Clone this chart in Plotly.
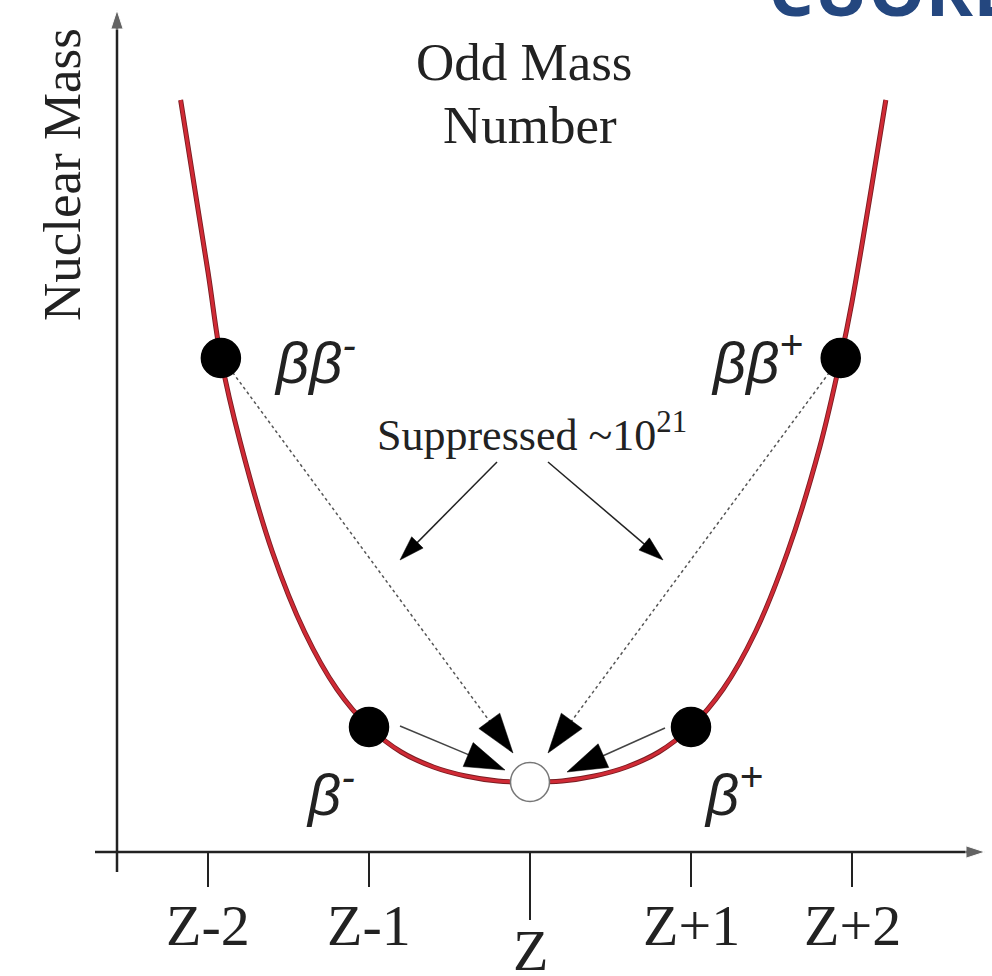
import plotly.graph_objects as go

# ---- data ----
# x in units of atomic number relative to Z; y in arbitrary mass units
curve_z = [-2.17, -2.0, -1.92, -1.8, -1.6, -1.4, -1.2, -1.0, -0.8, -0.6, -0.4, -0.2, 0.0,
           0.2, 0.4, 0.6, 0.8, 1.0, 1.2, 1.4, 1.6, 1.8, 1.93, 2.0, 2.21]
curve_mass = [752, 580, 494, 410, 300, 220, 163, 125, 100, 85, 76, 71, 70,
              71, 76, 85, 100, 125, 163, 220, 300, 405, 494, 550, 752]

nuclei_z = [-1.92, -1.0, 0.0, 1.0, 1.93]
nuclei_mass = [494, 125, 70, 125, 494]
nuclei_filled = [True, True, False, True, True]

tick_pos = [-2, -1, 0, 1, 2]
tick_labels = ["Z-2", "Z-1", "Z", "Z+1", "Z+2"]

decay_labels = ["ββ<sup>-</sup>", "β<sup>-</sup>", "β<sup>+</sup>", "ββ<sup>+</sup>"]

# ---- layout helpers (pixel <-> data mapping with zero margins) ----
W, H = 992, 976
X0PX, XUNIT = 530, 161.0   # px of Z, px per unit
Y0PX = 852                 # px of mass 0 (x axis)

def ux(px):
    return (px - X0PX) / XUNIT

def my(py):
    return Y0PX - py

fig = go.Figure()

# arrows (line + arrow marker at tip)
arrows = [
    # (x0px, y0px, x1px, y1px, dash, head size, line color)
    (222, 358, 513, 753, "dot", 42, "#555555"),
    (840, 358, 548, 753, "dot", 42, "#555555"),
    (400, 726, 505, 770, "solid", 42, "#444444"),
    (665, 728, 567, 772, "solid", 42, "#444444"),
    (497, 462, 400, 560, "solid", 26, "#222222"),
    (548, 462, 663, 560, "solid", 26, "#222222"),
]
for x0, y0, x1, y1, dash, sz, col in arrows:
    fig.add_trace(go.Scatter(
        x=[ux(x0), ux(x1)], y=[my(y0), my(y1)], mode="lines+markers",
        line=dict(color=col, width=1.5, dash=dash),
        marker=dict(symbol="arrow", size=[0, sz], angleref="previous",
                    color="#000000", opacity=1, line=dict(width=0.5, color="#000000")),
        hoverinfo="skip", showlegend=False))

# axes lines with arrows
fig.add_trace(go.Scatter(
    x=[ux(117), ux(117)], y=[my(872), my(10)], mode="lines+markers",
    line=dict(color="#222", width=2.5),
    marker=dict(symbol="arrow", size=[0, 20], angleref="previous", color="#222"),
    hoverinfo="skip", showlegend=False))
fig.add_trace(go.Scatter(
    x=[ux(95), ux(985)], y=[0, 0], mode="lines+markers",
    line=dict(color="#222", width=2.5),
    marker=dict(symbol="arrow", size=[0, 20], angleref="previous", color="#222"),
    hoverinfo="skip", showlegend=False))

# curve: dark edge + red core
fig.add_trace(go.Scatter(x=curve_z, y=curve_mass, mode="lines", line_shape="spline",
                         line=dict(color="#7a1d22", width=5), hoverinfo="skip", showlegend=False))
fig.add_trace(go.Scatter(x=curve_z, y=curve_mass, mode="lines", line_shape="spline",
                         line=dict(color="#d02a35", width=3.2), hoverinfo="skip", showlegend=False))

# nuclei
fig.add_trace(go.Scatter(
    x=nuclei_z, y=nuclei_mass, mode="markers",
    marker=dict(size=39, symbol="circle",
                color=["#000000" if f else "#ffffff" for f in nuclei_filled],
                line=dict(color=["#000000" if f else "#777777" for f in nuclei_filled], width=1.5)),
    hoverinfo="skip", showlegend=False))

serif = "Liberation Serif"

# ticks
for p, lab in zip(tick_pos, tick_labels):
    longt = (lab == "Z")
    fig.add_shape(type="line", x0=p, x1=p, y0=0, y1=my(920) if longt else my(887),
                  line=dict(color="#222", width=2))
    fig.add_annotation(x=p, y=my(950) if longt else my(925), text=lab, showarrow=False,
                       font=dict(family=serif, size=58, color="#222"))

fig.add_annotation(x=ux(524), y=my(62), text="Odd Mass", showarrow=False,
                   font=dict(family=serif, size=53, color="#222"))
fig.add_annotation(x=ux(530), y=my(125), text="Number", showarrow=False,
                   font=dict(family=serif, size=53, color="#222"))
fig.add_annotation(x=ux(62), y=my(175), text="Nuclear Mass", showarrow=False, textangle=-90,
                   font=dict(family=serif, size=53, color="#222"))
fig.add_annotation(x=ux(532), y=my(432), text="Suppressed ~10<sup>21</sup>", showarrow=False,
                   font=dict(family=serif, size=44, color="#222"))

beta_pos = [(315, 358), (330, 790), (733, 790), (757, 358)]
for (px, py), lab in zip(beta_pos, decay_labels):
    fig.add_annotation(x=ux(px), y=my(py), text="<i>" + lab + "</i>", showarrow=False,
                       font=dict(family="Liberation Sans", size=58, color="#222"))

fig.add_annotation(xref="paper", yref="paper", x=766 / W, y=1 + 12 / H, xanchor="left",
                   yanchor="middle", text="<b>CUORE</b>", showarrow=False,
                   font=dict(family="Open Sans", size=72, color="#24477f"))

fig.update_layout(
    width=W, height=H, margin=dict(l=0, r=0, t=0, b=0),
    paper_bgcolor="white", plot_bgcolor="white",
    xaxis=dict(range=[ux(0), ux(W)], visible=False, fixedrange=True),
    yaxis=dict(range=[my(H), my(0)], visible=False, fixedrange=True),
    showlegend=False,
)
fig.write_html("out.html")
